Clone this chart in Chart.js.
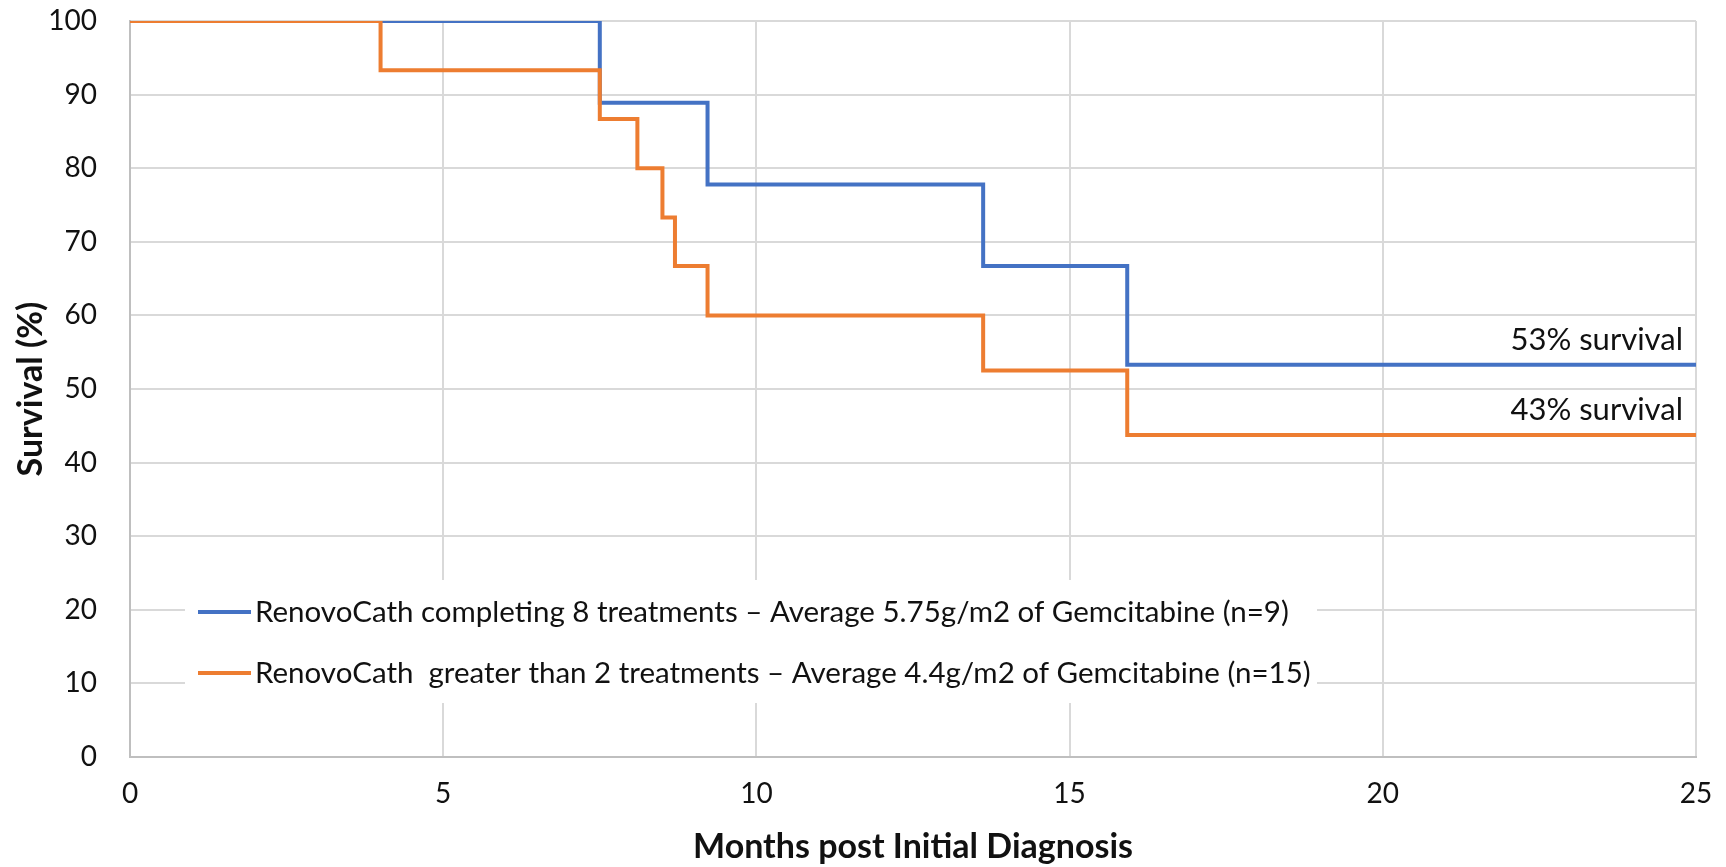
<!DOCTYPE html>
<html>
<head>
<meta charset="utf-8">
<script src="https://cdn.jsdelivr.net/npm/chart.js@4.4.1/dist/chart.umd.min.js"></script>
<style>
  html, body { margin: 0; padding: 0; background: #fff; }
  #wrap { width: 1726px; height: 867px; }
</style>
</head>
<body>
<div id="wrap"><canvas id="kmChart" width="1726" height="867"></canvas></div>
<script>
// =====================================================
// DATA
// =====================================================
const blueLabel = "RenovoCath completing 8 treatments \u2013 Average 5.75g/m2 of Gemcitabine (n=9)";
const blueMonths = [0, 7.5, 9.22, 13.62, 15.92, 25];
const blueSurvival = [100, 88.9, 77.8, 66.7, 53.3, 53.3];

const orangeLabel = "RenovoCath  greater than 2 treatments \u2013 Average 4.4g/m2 of Gemcitabine (n=15)";
const orangeMonths = [0, 4.0, 7.5, 8.1, 8.5, 8.7, 9.22, 13.62, 15.92, 25];
const orangeSurvival = [100, 93.3, 86.7, 80, 73.3, 66.7, 60, 52.5, 43.75, 43.75];

const endNotes = ["53% survival", "43% survival"];

const xTicks = [0, 5, 10, 15, 20, 25];
const yTicks = [0, 10, 20, 30, 40, 50, 60, 70, 80, 90, 100];

const FONT = "Lato, 'Open Sans', sans-serif";

function toPoints(xs, ys) {
    return xs.map((x, i) => ({ x: x, y: ys[i] }));
}

// =====================================================
// PLUGINS: legend box inside plot + end-of-curve notes
// =====================================================
const insideLegend = {
    id: 'insideLegend',
    beforeDatasetsDraw(chart) {
        const { ctx, chartArea } = chart;
        const left = chartArea.left + 55;
        const top = chartArea.top + 559;
        const w = 1132, h = 123;
        ctx.save();
        ctx.fillStyle = '#fff';
        ctx.fillRect(left, top, w, h);
        ctx.font = "29.5px " + FONT;
        ctx.textBaseline = 'middle';
        chart.data.datasets.forEach((ds, i) => {
            const cy = top + 32 + i * 61;
            ctx.strokeStyle = ds.borderColor;
            ctx.lineWidth = 4;
            ctx.beginPath();
            ctx.moveTo(left + 13, cy);
            ctx.lineTo(left + 66, cy);
            ctx.stroke();
            ctx.fillStyle = '#111';
            ctx.fillText(ds.label, left + 70, cy);
        });
        ctx.restore();
    }
};

const endLabels = {
    id: 'endLabels',
    afterDatasetsDraw(chart) {
        const { ctx, scales } = chart;
        ctx.save();
        ctx.font = "31px " + FONT;
        ctx.fillStyle = '#111';
        ctx.textAlign = 'right';
        ctx.textBaseline = 'middle';
        chart.data.datasets.forEach((ds, i) => {
            const last = ds.data[ds.data.length - 1];
            const px = scales.x.getPixelForValue(last.x) - 13;
            const py = scales.y.getPixelForValue(last.y) - 25;
            ctx.fillText(endNotes[i], px, py);
        });
        ctx.restore();
    }
};

// =====================================================
// CHART
// =====================================================
const chart = new Chart(document.getElementById('kmChart'), {
    type: 'line',
    data: {
        datasets: [
            {
                label: blueLabel,
                data: toPoints(blueMonths, blueSurvival),
                borderColor: '#4472C4',
                borderWidth: 4,
                stepped: true,
                pointRadius: 0,
                fill: false,
                order: 1
            },
            {
                label: orangeLabel,
                data: toPoints(orangeMonths, orangeSurvival),
                borderColor: '#ED7D31',
                borderWidth: 4,
                stepped: true,
                pointRadius: 0,
                fill: false,
                order: 0
            }
        ]
    },
    options: {
        responsive: false,
        animation: false,
        layout: { padding: { top: 21, right: 30, left: 0, bottom: 0 } },
        plugins: {
            legend: { display: false },
            tooltip: { enabled: false }
        },
        scales: {
            x: {
                type: 'linear',
                min: 0,
                max: 25,
                afterBuildTicks: s => { s.ticks = xTicks.map(v => ({ value: v })); },
                afterFit: s => { s.height = 110; s.paddingLeft = 0; s.paddingRight = 0; },
                grid: { color: '#D9D9D9', lineWidth: 2, drawTicks: false },
                border: { color: '#BFBFBF', width: 2 },
                ticks: {
                    color: '#111',
                    padding: 20,
                    maxRotation: 0,
                    font: { family: FONT, size: 28 }
                },
                title: {
                    display: true,
                    text: 'Months post Initial Diagnosis',
                    color: '#111',
                    padding: { top: 0, bottom: 0 },
                    font: { family: FONT, size: 34, weight: 'bold' }
                }
            },
            y: {
                min: 0,
                max: 100,
                afterBuildTicks: s => { s.ticks = yTicks.map(v => ({ value: v })); },
                afterFit: s => { s.width = 130; s.paddingTop = 0; s.paddingBottom = 0; },
                grid: { color: '#D9D9D9', lineWidth: 2, drawTicks: false },
                border: { color: '#BFBFBF', width: 2 },
                ticks: {
                    color: '#111',
                    padding: 33,
                    font: { family: FONT, size: 28 }
                },
                title: {
                    display: true,
                    text: 'Survival (%)',
                    color: '#111',
                    padding: { top: 11, bottom: 0 },
                    font: { family: FONT, size: 34, weight: 'bold' }
                }
            }
        }
    },
    plugins: [insideLegend, endLabels]
});
</script>
</body>
</html>
